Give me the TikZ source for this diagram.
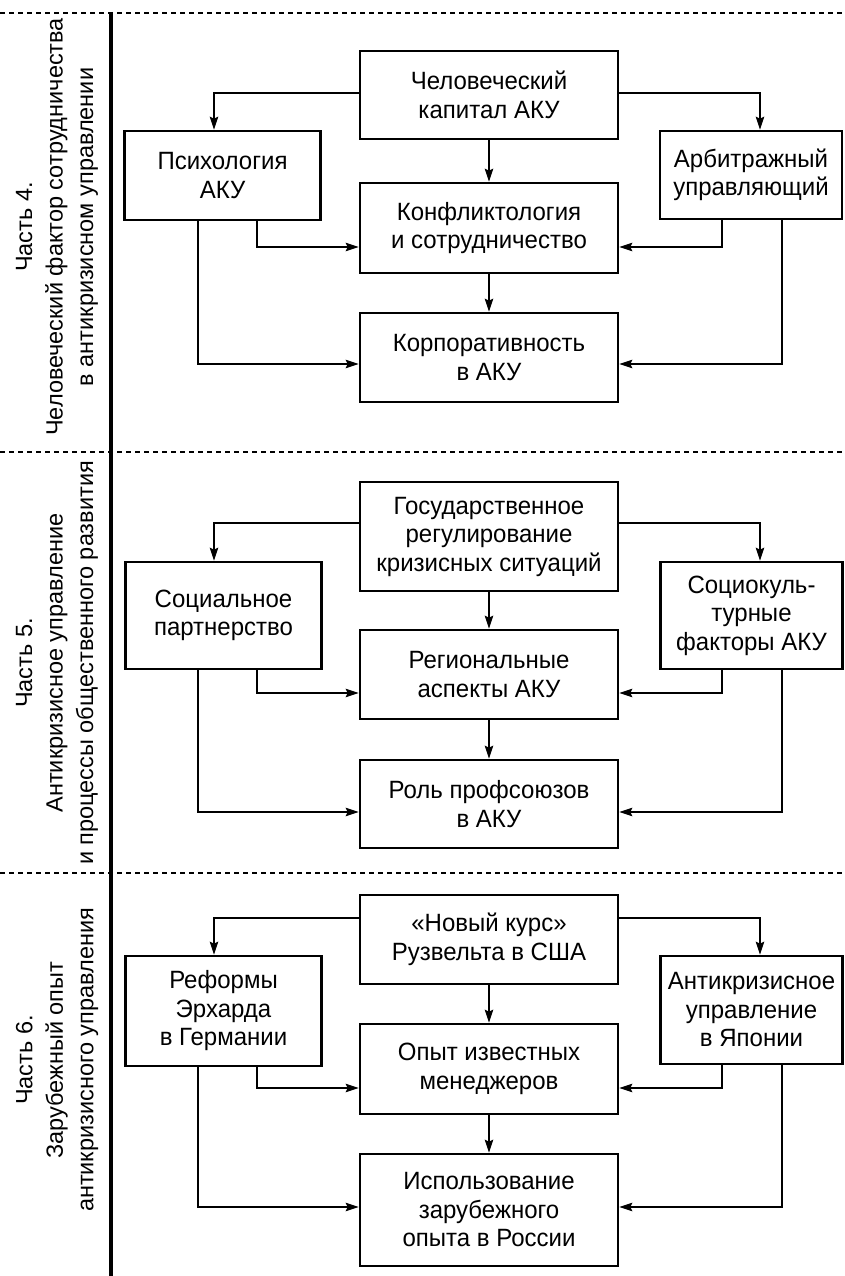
\documentclass[tikz,border=0pt]{standalone}
\usepackage{fontspec}
\setmainfont{Liberation Sans}
\newfontfamily\boxfont[FakeStretch=0.96]{Liberation Sans}
\usetikzlibrary{arrows.meta}

\begin{document}
\begin{tikzpicture}[x=1pt,y=-1pt,
  box/.style={draw, line width=2.7pt, align=center, inner sep=2pt,
    font=\boxfont\fontsize{25}{28.5}\selectfont},
  wide/.style={box, minimum width=258pt},
  side/.style={box, minimum width=196pt},
  rside/.style={box, minimum width=182pt},
  link/.style={line width=1.1pt, -{Stealth[length=13pt,width=8.5pt,inset=2pt]}},
  sepline/.style={line width=1.1pt, dash pattern=on 5pt off 4pt},
  spine/.style={line width=4pt},
  part/.style={rotate=90, align=center, inner sep=0pt,
    font=\fontsize{23.5}{30.5}\selectfont}
]
\useasboundingbox (0,0) rectangle (845,1276);

% section separators and the vertical spine
\draw[sepline] (0,13) -- (845,13);
\draw[sepline] (0,452) -- (845,452);
\draw[sepline] (0,873) -- (845,873);
\draw[spine] (111,12) -- (111,1276);

% part titles
\node[part] (P4) at (57,227) {Часть 4.\\Человеческий фактор сотрудничества\\в антикризисном управлении};
\node[part] (P5) at (57,663) {Часть 5.\\Антикризисное управление\\и процессы общественного развития};
\node[part] (P6) at (57,1060) {Часть 6.\\Зарубежный опыт\\антикризисного управления};

% ---- part 4 ----
\node[wide, minimum height=88pt] (T4) at (489,95) {Человеческий\\капитал АКУ};
\node[side, minimum height=89pt] (L4) at (222.5,175.5) {Психология\\АКУ};
\node[rside, minimum height=88pt] (R4) at (751,175) {Арбитражный\\управляющий};
\node[wide, minimum height=90pt] (M4) at (489,228) {Конфликтология\\и сотрудничество};
\node[wide, minimum height=89pt] (B4) at (489,357.5) {Корпоративность\\в АКУ};

\draw[link] ([yshift=2pt]T4.west) -| ([xshift=-8.5pt]L4.north);
\draw[link] ([yshift=2pt]T4.east) -| ([xshift=9pt]R4.north);
\draw[link] (T4.south) -- (M4.north);
\draw[link] (M4.south) -- (B4.north);
\draw[link] ([xshift=34.5pt]L4.south) |- ([yshift=-19pt]M4.west);
\draw[link] ([xshift=-24.5pt]L4.south) |- ([yshift=-6.5pt]B4.west);
\draw[link] ([xshift=-29pt]R4.south) |- ([yshift=-19pt]M4.east);
\draw[link] ([xshift=31pt]R4.south) |- ([yshift=-6.5pt]B4.east);

% ---- part 5 ----
\node[wide, minimum height=109pt] (T5) at (489,536.5) {Государственное\\регулирование\\кризисных ситуаций};
\node[side, minimum height=107pt] (L5) at (223.5,615.5) {Социальное\\партнерство};
\node[rside, minimum height=107pt] (R5) at (751.5,615.5) {Социокуль-\\турные\\факторы АКУ};
\node[wide, minimum height=89pt] (M5) at (489,674.5) {Региональные\\аспекты АКУ};
\node[wide, minimum height=88pt] (B5) at (489,804) {Роль профсоюзов\\в АКУ};

\draw[link] ([yshift=13.5pt]T5.west) -| ([xshift=-9.5pt]L5.north);
\draw[link] ([yshift=13.5pt]T5.east) -| ([xshift=8.5pt]R5.north);
\draw[link] (T5.south) -- (M5.north);
\draw[link] (M5.south) -- (B5.north);
\draw[link] ([xshift=33.5pt]L5.south) |- ([yshift=-18.5pt]M5.west);
\draw[link] ([xshift=-25.5pt]L5.south) |- ([yshift=-8pt]B5.west);
\draw[link] ([xshift=-29.5pt]R5.south) |- ([yshift=-18.5pt]M5.east);
\draw[link] ([xshift=30.5pt]R5.south) |- ([yshift=-8pt]B5.east);

% ---- part 6 ----
\node[wide, minimum height=89pt] (T6) at (489,939.5) {«Новый курс»\\Рузвельта в США};
\node[side, minimum height=110pt] (L6) at (223.5,1011) {Реформы\\Эрхарда\\в Германии};
\node[rside, minimum height=108pt] (R6) at (751.5,1010) {Антикризисное\\управление\\в Японии};
\node[wide, minimum height=90pt] (M6) at (489,1069) {Опыт известных\\менеджеров};
\node[wide, minimum height=112pt] (B6) at (489,1210) {Использование\\зарубежного\\опыта в России};

\draw[link] ([yshift=21.5pt]T6.west) -| ([xshift=-9.5pt]L6.north);
\draw[link] ([yshift=21.5pt]T6.east) -| ([xshift=8.5pt]R6.north);
\draw[link] (T6.south) -- (M6.north);
\draw[link] (M6.south) -- (B6.north);
\draw[link] ([xshift=33.5pt]L6.south) |- ([yshift=-19pt]M6.west);
\draw[link] ([xshift=-25.5pt]L6.south) |- ([yshift=3pt]B6.west);
\draw[link] ([xshift=-29.5pt]R6.south) |- ([yshift=-19pt]M6.east);
\draw[link] ([xshift=30.5pt]R6.south) |- ([yshift=3pt]B6.east);
\end{tikzpicture}
\end{document}
